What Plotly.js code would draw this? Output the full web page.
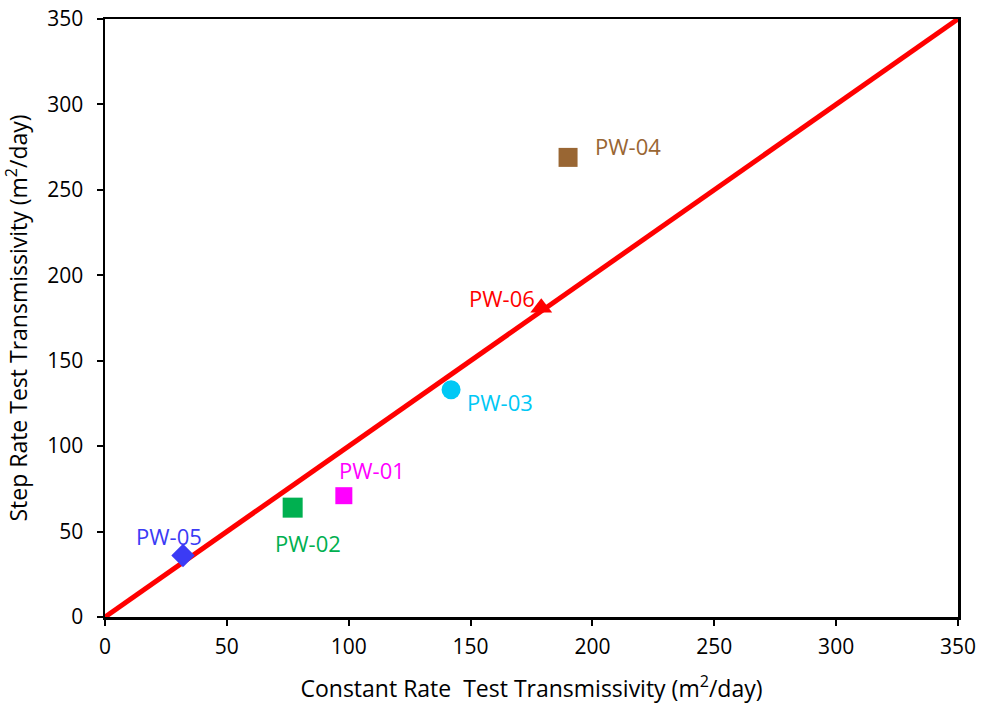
<!DOCTYPE html>
<html><head><meta charset="utf-8">
<script src="https://cdn.plot.ly/plotly-3.0.1.min.js"></script>
<style>body{margin:0;}#chart{width:982px;height:711px;}</style>
</head><body><div id="chart"></div>
<script>
const wells = ["PW-05","PW-02","PW-01","PW-03","PW-06","PW-04"];
const constantRateT = [32, 77, 98, 142, 179, 190];
const stepRateT = [36, 64, 71, 133, 181, 269];
const markerSymbols = ["diamond","square","square","circle","triangle-up","square"];
const markerColors = ["#3B3BF5","#00B050","#FF00FF","#00C8F5","#FF0000","#996633"];
const markerSizes = [18, 20, 17, 19, 19, 19];
const labelDx = [-14, 15, 28, 49, -39, 60];
const labelDy = [-19, 35, -26, 12, -10, -11];
const lineX = [0, 350];
const lineY = [0, 350];
const ticks = [0,50,100,150,200,250,300,350];

const traces = [{
  x: lineX, y: lineY, mode: "lines", type: "scatter",
  line: {color: "#FF0000", width: 5}, hoverinfo: "skip"
}];
wells.forEach((w,i)=>{
  traces.push({
    x: [constantRateT[i]], y: [stepRateT[i]], mode: "markers", type: "scatter", name: w,
    marker: {symbol: markerSymbols[i], color: markerColors[i], size: markerSizes[i]}
  });
});
const annotations = wells.map((w,i)=>({
  x: constantRateT[i], y: stepRateT[i], xref: "x", yref: "y",
  text: w, showarrow: false, xshift: labelDx[i], yshift: -labelDy[i],
  font: {family: "Open Sans, sans-serif", size: 22, color: markerColors[i]}
}));
const axisCommon = {
  range: [0, 350], tickvals: ticks, ticktext: ticks.map(String),
  showline: true, linecolor: "#000", linewidth: 2.5, mirror: true,
  ticks: "outside", ticklen: 6, tickwidth: 2, tickcolor: "#000",
  showgrid: false, zeroline: false,
  tickfont: {family: "Open Sans, sans-serif", size: 21, color: "#000"}
};
const layout = {
  width: 982, height: 711,
  margin: {l: 105, r: 24, t: 19, b: 94},
  paper_bgcolor: "#fff", plot_bgcolor: "#fff",
  showlegend: false,
  xaxis: Object.assign({}, axisCommon, {
    ticklabelstandoff: 3,
    title: {text: "Constant Rate  Test Transmissivity (m<sup>2</sup>/day)", standoff: 22,
      font: {family: "Open Sans, sans-serif", size: 23, color: "#000"}}
  }),
  yaxis: Object.assign({}, axisCommon, {
    ticklabelstandoff: 9,
    title: {text: "Step Rate Test Transmissivity (m<sup>2</sup>/day)", standoff: 14,
      font: {family: "Open Sans, sans-serif", size: 23, color: "#000"}}
  }),
  annotations: annotations
};
Plotly.newPlot("chart", traces, layout, {displayModeBar: false, staticPlot: true});
</script></body></html>
